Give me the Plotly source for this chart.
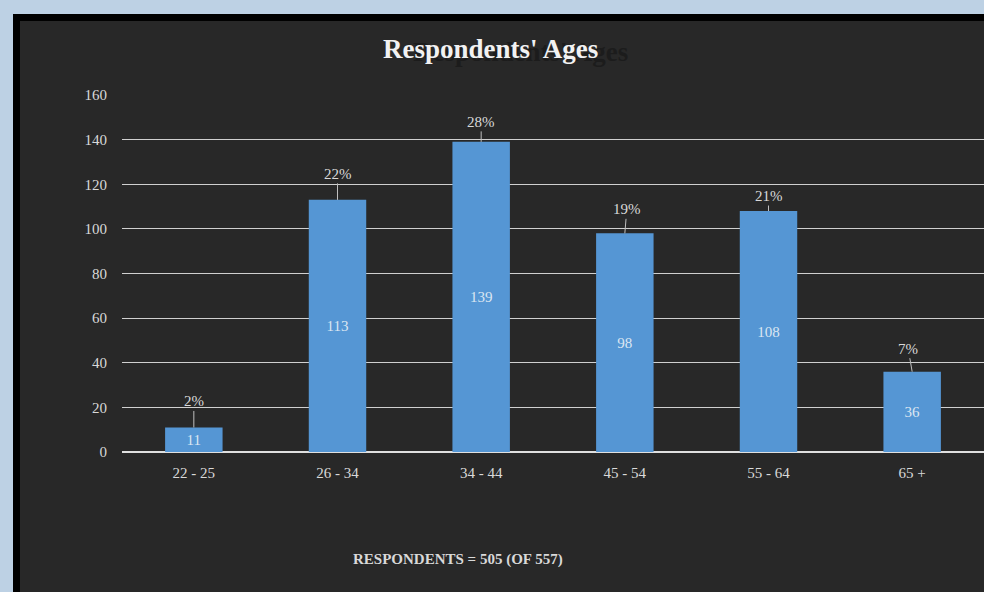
import plotly.graph_objects as go

categories = ["22 - 25", "26 - 34", "34 - 44", "45 - 54", "55 - 64", "65 +"]
counts = [11, 113, 139, 98, 108, 36]
pct_labels = ["2%", "22%", "28%", "19%", "21%", "7%"]
y_ticks = [0, 20, 40, 60, 80, 100, 120, 140, 160]
title_text = "Respondents' Ages"
footnote_text = "RESPONDENTS = 505 (OF 557)"

W, H = 984, 592
L, R, T, B = 122, 0, 95, 140
PW = W - L - R
PH = H - T - B


def px(x):
    return (x - L) / PW


def py(y):
    return (H - B - y) / PH


FONT = "Liberation Serif, Times New Roman, serif"
LIGHT = "#d9d9d9"

fig = go.Figure()
fig.add_trace(go.Bar(
    x=categories, y=counts, width=0.4,
    marker=dict(color="#5596d4", line=dict(width=0)),
    text=[str(c) for c in counts], textposition="inside",
    insidetextanchor="middle",
    textfont=dict(family=FONT, size=15, color="#dce6f2"),
    hoverinfo="skip",
))

shapes = [
    dict(type="rect", xref="paper", yref="paper", layer="below",
         x0=px(13), x1=px(W + 20), y0=py(H + 20), y1=py(14),
         fillcolor="#000000", line=dict(width=0)),
    dict(type="rect", xref="paper", yref="paper", layer="below",
         x0=px(20), x1=px(W + 20), y0=py(H + 20), y1=py(21),
         fillcolor="#282828", line=dict(width=0)),
]

offsets_y = [-26, -26, -20, -24, -15, -23]
offsets_x = [0, 0, 0, 2, 0, -4]
annotations = []
for c, v, p, ay, ax in zip(categories, counts, pct_labels, offsets_y, offsets_x):
    annotations.append(dict(
        x=c, y=v, xref="x", yref="y", text=p, showarrow=True,
        arrowhead=0, arrowwidth=1, arrowcolor="#bfbfbf", ax=ax, ay=ay,
        standoff=0, startstandoff=0,
        font=dict(family=FONT, size=15, color=LIGHT),
    ))

# title shadow and title
annotations.append(dict(
    x=px(520), y=py(52), xref="paper", yref="paper", showarrow=False,
    text="<b>" + title_text + "</b>", xanchor="center", yanchor="middle",
    font=dict(family=FONT, size=27, color="#1c1c1c"),
))
annotations.append(dict(
    x=px(490), y=py(49), xref="paper", yref="paper", showarrow=False,
    text="<b>" + title_text + "</b>", xanchor="center", yanchor="middle",
    font=dict(family=FONT, size=27, color="#f2f2f2"),
))
annotations.append(dict(
    x=px(458), y=py(559), xref="paper", yref="paper", showarrow=False,
    text="<b>" + footnote_text + "</b>", xanchor="center", yanchor="middle",
    font=dict(family=FONT, size=15, color=LIGHT),
))

fig.update_layout(
    width=W, height=H, autosize=False,
    margin=dict(l=L, r=R, t=T, b=B, pad=0),
    paper_bgcolor="#bdd1e4", plot_bgcolor="rgba(0,0,0,0)",
    shapes=shapes, annotations=annotations, showlegend=False,
    bargap=0.6,
    xaxis=dict(showgrid=False, showline=False, zeroline=False,
               tickfont=dict(family=FONT, size=15, color=LIGHT),
               ticks="", ticklabelstandoff=10, fixedrange=True),
    yaxis=dict(range=[0, 160], tickvals=y_ticks, showgrid=True,
               gridcolor="#d0d0d0", gridwidth=1,
               zeroline=True, zerolinecolor="#e0e0e0", zerolinewidth=2,
               showline=False, ticks="", ticklabelstandoff=14,
               tickfont=dict(family=FONT, size=15, color=LIGHT),
               fixedrange=True),
)

fig.write_html("out.html", config=dict(displayModeBar=False))
